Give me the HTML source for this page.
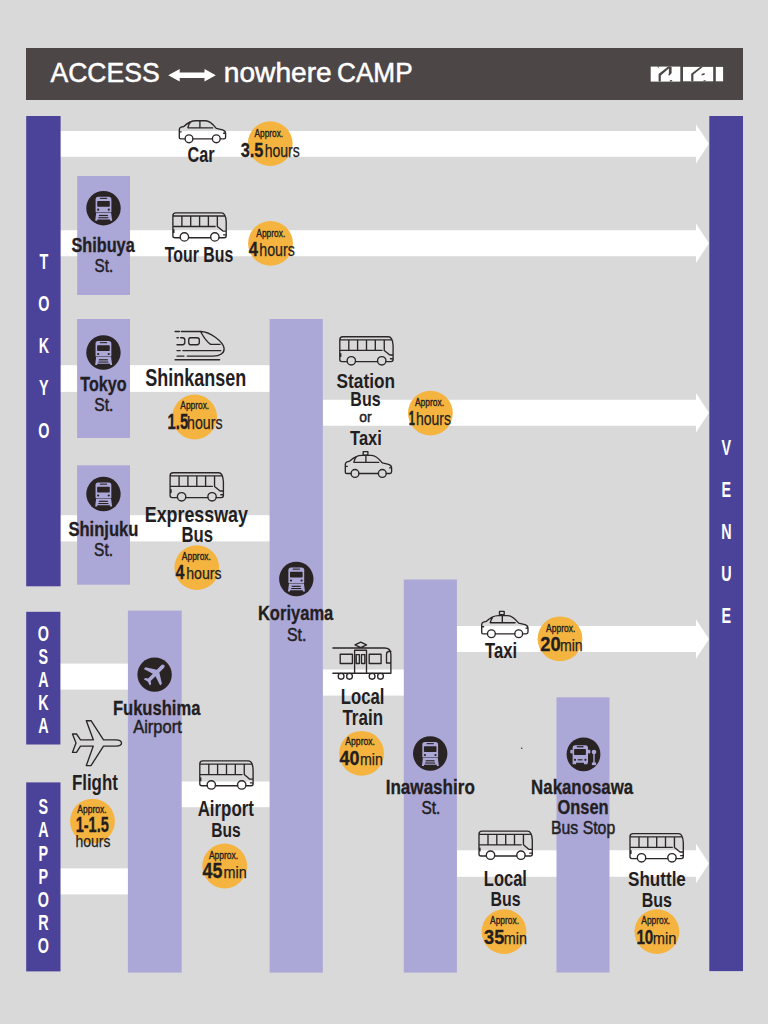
<!DOCTYPE html>
<html><head><meta charset="utf-8"><style>
html,body{margin:0;padding:0;background:#d9d9d9;}
svg{display:block;}
</style></head><body>
<svg width="768" height="1024" viewBox="0 0 768 1024">
<defs><g id="tr"><circle r="17.2" fill="#2a2323"/>
<path d="M-7.9 -8.8Q-7.9 -11.4 -5.3 -11.4H5.3Q7.9 -11.4 7.9 -8.8V4.1H-7.9Z" fill="#aba7d7"/>
<rect x="-6.3" y="-7.3" width="12.6" height="5.8" rx="0.8" fill="#2a2323"/>
<rect x="-3.6" y="-10.4" width="7.2" height="1.1" fill="#2a2323"/>
<circle cx="-5.3" cy="1.5" r="1.1" fill="#2a2323"/><circle cx="5.3" cy="1.5" r="1.1" fill="#2a2323"/>
<path d="M-7.3 4.5H7.6L8.7 12.6H6.7L6.4 11.2H-6.1L-6.4 12.6H-8.3Z" fill="#aba7d7"/><rect x="-4.6" y="6.7" width="9" height="1.2" fill="#2a2323"/><rect x="-5.1" y="9.0" width="10" height="1.1" fill="#2a2323"/></g><g id="ap"><circle r="17.2" fill="#2a2323"/>
<g transform="translate(0.6 -0.6) rotate(45) scale(1.22) translate(-11.5 -12.3)"><path fill="#aba7d7" d="M21 16v-2l-8-5V3.5c0-.83-.67-1.5-1.5-1.5S10 2.67 10 3.5V9l-8 5v2l8-2.5V19l-2 1.5V22l3.5-1 3.5 1v-1.5L13 19v-5.5l8 2.5z"/></g></g><g id="bs"><circle r="16.9" fill="#2a2323"/>
<path d="M-10.9 -6.6Q-10.9 -9.1 -8.4 -9.1H2Q4.5 -9.1 4.5 -6.6V8.4H4V10H0.5V8.4H-7.4V10H-10.9Z" fill="#aba7d7"/>
<rect x="-13.2" y="-4.5" width="2.5" height="3.6" rx="1" fill="#aba7d7"/><rect x="4.3" y="-4.5" width="2.5" height="3.6" rx="1" fill="#aba7d7"/>
<rect x="-9.4" y="-5.2" width="11.8" height="5.8" rx="0.6" fill="#2a2323"/>
<rect x="-6.6" y="-8.2" width="6.6" height="1.3" fill="#2a2323"/>
<circle cx="-8.5" cy="5.5" r="1.1" fill="#2a2323"/><circle cx="1.9" cy="5.5" r="1.1" fill="#2a2323"/><rect x="-5.8" y="4.9" width="4.8" height="1.2" fill="#2a2323"/>
<circle cx="10.5" cy="-2.3" r="2.3" fill="#aba7d7"/><rect x="9.8" y="-1" width="1.4" height="10" fill="#aba7d7"/><rect x="8.4" y="8.2" width="4.2" height="2.6" fill="#aba7d7"/>
</g><g id="car"><path d="M7 20.4H2.6Q1.3 20.4 1.3 19.1V11.2Q1.3 9.4 3 8.7L5.8 8C9.5 4.3 13.5 2.2 18 2.2H27.5C31.5 2.2 34.5 5 38.3 9.8L44.6 11.3Q47.6 12.2 47.6 15V18.7Q47.6 20.4 45.9 20.4H42.3M34.3 20.4H15M9.9 9.2Q11 5 12 4.6M9.9 9.3H34.7M21.9 2.3V9.3M1.3 13.3H3.2M45.6 14.7H47.4" stroke="#2b2627" stroke-width="1.35" fill="none" stroke-linecap="round" stroke-linejoin="round"/><circle cx="11" cy="20.3" r="3.9" stroke="#2b2627" stroke-width="1.35" fill="none" stroke-linecap="round" stroke-linejoin="round"/><circle cx="38.3" cy="20.3" r="3.9" stroke="#2b2627" stroke-width="1.35" fill="none" stroke-linecap="round" stroke-linejoin="round"/></g><g id="bus"><path d="M8.1 26H2.8Q0.8 26 0.8 24V4.1Q0.8 1.1 3.8 1.1H49.3C52.3 1.1 53.8 4 54.1 10V24Q54.1 26 52.1 26H46.95M16.5 26H38.55M0.8 4.3H52.4M0.8 14.8H43M9.8 4.3V14.8M18.6 4.3V14.8M27.5 4.3V14.8M36.3 4.3V14.8M45.25 4.3V14.8L50.8 19.4H54.1M51.5 23.1H54.1" stroke="#2b2627" stroke-width="1.35" fill="none" stroke-linecap="round" stroke-linejoin="round"/><rect x="0.8" y="17.6" width="1.6" height="3.8" fill="#2b2627"/><circle cx="12.3" cy="25.2" r="4.2" stroke="#2b2627" stroke-width="1.35" fill="none" stroke-linecap="round" stroke-linejoin="round"/><circle cx="42.75" cy="25.2" r="4.2" stroke="#2b2627" stroke-width="1.35" fill="none" stroke-linecap="round" stroke-linejoin="round"/></g><g id="shk"><path d="M5.1 5.5H9.4M11.3 5.5H30.5C40 5.5 53.5 16 54.1 22.5C54.6 27 50 30.1 43 30.1H17.2M7 30.1H14M30.5 5.5C33 10 36 15.5 40.6 18.4H50M7 24.6H10.2M12.9 24.6H50.8M5.1 33.75H49.6M20.3 11.7H27.1Q29.3 11.7 29.3 13.9V16.6Q29.3 18.75 27.1 18.75H20.3Q18.75 18.75 18.75 16.6V13.9Q18.75 11.7 20.3 11.7ZM7 11.7H8.3M10.6 11.7H12.6Q14.8 11.7 14.8 13.9V16.6Q14.8 18.75 12.6 18.75H7" stroke="#2b2627" stroke-width="1.35" fill="none" stroke-linecap="round" stroke-linejoin="round"/></g><g id="ltr"><path d="M4.9 12H56.5Q62.9 12 62.9 18.4V37.2H4.9M27 8.9L32.75 6.1L38.5 8.9L32.75 11.7ZM26.6 37.2V14.2H38.5V37.2M28.2 18.6H31.4V27.5H28.2ZM33.5 18.6H36.8V27.5H33.5ZM12.2 18.2H24.4V27.5H12.2ZM41.2 18.2H53.1V27.5H41.2ZM58.5 27V18.5Q58.5 15.5 61 15.5H62.9M58.5 27H62.9" stroke="#2b2627" stroke-width="1.35" fill="none" stroke-linecap="round" stroke-linejoin="round"/><circle cx="13.1" cy="40.3" r="2.9" stroke="#2b2627" stroke-width="1.35" fill="none" stroke-linecap="round" stroke-linejoin="round"/><circle cx="21.5" cy="40.3" r="2.9" stroke="#2b2627" stroke-width="1.35" fill="none" stroke-linecap="round" stroke-linejoin="round"/><circle cx="44.1" cy="40.3" r="2.9" stroke="#2b2627" stroke-width="1.35" fill="none" stroke-linecap="round" stroke-linejoin="round"/><circle cx="52.5" cy="40.3" r="2.9" stroke="#2b2627" stroke-width="1.35" fill="none" stroke-linecap="round" stroke-linejoin="round"/></g></defs>
<rect width="768" height="1024" fill="#d9d9d9"/>
<rect x="26.00" y="48.00" width="717.00" height="52.00" fill="#4d4647"/>
<text x="50.40" y="82.30" font-family="Liberation Sans" font-weight="normal" font-size="27.10" textLength="109.36" lengthAdjust="spacingAndGlyphs" fill="#ffffff" stroke="#ffffff" stroke-width="0.5">ACCESS</text>
<path d="M168.2 75.3L179.7 69.1V72.6H204.5V69.1L215.8 75.3L204.5 81.5V77.9H179.7V81.5Z" fill="#fff"/>
<text x="223.77" y="82.40" font-family="Liberation Sans" font-weight="normal" font-size="26.76" textLength="108.03" lengthAdjust="spacingAndGlyphs" fill="#ffffff" stroke="#ffffff" stroke-width="0.5">nowhere</text>
<text x="336.99" y="82.30" font-family="Liberation Sans" font-weight="normal" font-size="27.00" textLength="75.68" lengthAdjust="spacingAndGlyphs" fill="#ffffff" stroke="#ffffff" stroke-width="0.5">CAMP</text>
<g fill="#fff"><rect x="650.7" y="66.6" width="29.6" height="15"/><rect x="683" y="66.9" width="30.2" height="14.4"/><rect x="715.8" y="66.9" width="7.3" height="14.4"/></g>
<g fill="#4d4647" transform="translate(650.7 66.6)"><path d="M7.9 15H10.1V8.8L20.4 0H17.5L7.9 7.3Z"/><path d="M6.5 0H8.6L7.6 1.4Z"/><path d="M18.2 0.5H20.9V6.6L18.4 9.2L17.6 8.2L18.2 6.8Z"/><path d="M19.8 13.3H21.8L20.6 15H18.6Z"/></g>
<g fill="#4d4647" transform="translate(683 66.9)"><path d="M8.2 14.4H10.4V7.7L19.8 0H17.1L8.2 6.8Z"/><path d="M18.6 7.1L21.6 6.2V7.8L18.6 8.6Z"/><path d="M20.8 13.4H22.6V14.4H20.2Z"/></g>
<path d="M60 130.9H696V124.15L709 143.85L696 163.55V156.8H60Z" fill="#ffffff"/>
<path d="M60 230.3H696V223.55L709 243.25L696 262.95V256.2H60Z" fill="#ffffff"/>
<rect x="60.00" y="365.20" width="210.00" height="26.70" fill="#ffffff"/>
<path d="M323 399.7H696V393.00L709 412.70L696 432.40V425.7H323Z" fill="#ffffff"/>
<rect x="60.00" y="515.20" width="210.00" height="26.20" fill="#ffffff"/>
<rect x="60.00" y="663.60" width="68.40" height="26.00" fill="#ffffff"/>
<rect x="60.00" y="868.40" width="68.40" height="26.00" fill="#ffffff"/>
<rect x="181.00" y="781.50" width="89.00" height="25.70" fill="#ffffff"/>
<rect x="323.00" y="669.50" width="81.00" height="26.10" fill="#ffffff"/>
<path d="M457 626.1H696V619.35L709 639.05L696 658.75V652H457Z" fill="#ffffff"/>
<rect x="457.00" y="850.30" width="100.00" height="26.50" fill="#ffffff"/>
<path d="M609 850.3H696V843.85L709 863.55L696 883.25V876.8H609Z" fill="#ffffff"/>
<rect x="26.20" y="116.00" width="34.40" height="470.30" fill="#4b4299"/>
<rect x="26.20" y="611.80" width="34.20" height="132.70" fill="#4b4299"/>
<rect x="26.20" y="782.40" width="34.30" height="189.00" fill="#4b4299"/>
<rect x="709.30" y="116.00" width="33.70" height="855.10" fill="#4b4299"/>
<rect x="77.20" y="176.00" width="52.80" height="119.00" fill="#aba7d7"/>
<rect x="77.10" y="319.00" width="52.90" height="119.00" fill="#aba7d7"/>
<rect x="77.10" y="465.30" width="52.90" height="119.40" fill="#aba7d7"/>
<rect x="269.60" y="319.00" width="53.20" height="653.60" fill="#aba7d7"/>
<rect x="127.90" y="610.60" width="53.80" height="362.00" fill="#aba7d7"/>
<rect x="403.80" y="579.50" width="53.10" height="393.10" fill="#aba7d7"/>
<rect x="556.50" y="697.30" width="53.00" height="275.20" fill="#aba7d7"/>
<text x="43.90" y="268.90" font-family="Liberation Sans" font-weight="bold" font-size="21.45" fill="#fff" text-anchor="middle" transform="translate(43.90 0) scale(0.67 1) translate(-43.90 0)">T</text>
<text x="43.90" y="311.10" font-family="Liberation Sans" font-weight="bold" font-size="21.45" fill="#fff" text-anchor="middle" transform="translate(43.90 0) scale(0.67 1) translate(-43.90 0)">O</text>
<text x="43.90" y="353.30" font-family="Liberation Sans" font-weight="bold" font-size="21.45" fill="#fff" text-anchor="middle" transform="translate(43.90 0) scale(0.67 1) translate(-43.90 0)">K</text>
<text x="43.90" y="395.50" font-family="Liberation Sans" font-weight="bold" font-size="21.45" fill="#fff" text-anchor="middle" transform="translate(43.90 0) scale(0.67 1) translate(-43.90 0)">Y</text>
<text x="43.90" y="437.70" font-family="Liberation Sans" font-weight="bold" font-size="21.45" fill="#fff" text-anchor="middle" transform="translate(43.90 0) scale(0.67 1) translate(-43.90 0)">O</text>
<text x="43.40" y="640.80" font-family="Liberation Sans" font-weight="bold" font-size="21.45" fill="#fff" text-anchor="middle" transform="translate(43.40 0) scale(0.67 1) translate(-43.40 0)">O</text>
<text x="43.40" y="664.40" font-family="Liberation Sans" font-weight="bold" font-size="21.45" fill="#fff" text-anchor="middle" transform="translate(43.40 0) scale(0.67 1) translate(-43.40 0)">S</text>
<text x="43.40" y="687.10" font-family="Liberation Sans" font-weight="bold" font-size="21.45" fill="#fff" text-anchor="middle" transform="translate(43.40 0) scale(0.67 1) translate(-43.40 0)">A</text>
<text x="43.40" y="709.60" font-family="Liberation Sans" font-weight="bold" font-size="21.45" fill="#fff" text-anchor="middle" transform="translate(43.40 0) scale(0.67 1) translate(-43.40 0)">K</text>
<text x="43.40" y="733.10" font-family="Liberation Sans" font-weight="bold" font-size="21.45" fill="#fff" text-anchor="middle" transform="translate(43.40 0) scale(0.67 1) translate(-43.40 0)">A</text>
<text x="43.40" y="814.40" font-family="Liberation Sans" font-weight="bold" font-size="21.45" fill="#fff" text-anchor="middle" transform="translate(43.40 0) scale(0.67 1) translate(-43.40 0)">S</text>
<text x="43.40" y="837.40" font-family="Liberation Sans" font-weight="bold" font-size="21.45" fill="#fff" text-anchor="middle" transform="translate(43.40 0) scale(0.67 1) translate(-43.40 0)">A</text>
<text x="43.40" y="860.70" font-family="Liberation Sans" font-weight="bold" font-size="21.45" fill="#fff" text-anchor="middle" transform="translate(43.40 0) scale(0.67 1) translate(-43.40 0)">P</text>
<text x="43.40" y="883.90" font-family="Liberation Sans" font-weight="bold" font-size="21.45" fill="#fff" text-anchor="middle" transform="translate(43.40 0) scale(0.67 1) translate(-43.40 0)">P</text>
<text x="43.40" y="907.10" font-family="Liberation Sans" font-weight="bold" font-size="21.45" fill="#fff" text-anchor="middle" transform="translate(43.40 0) scale(0.67 1) translate(-43.40 0)">O</text>
<text x="43.40" y="930.30" font-family="Liberation Sans" font-weight="bold" font-size="21.45" fill="#fff" text-anchor="middle" transform="translate(43.40 0) scale(0.67 1) translate(-43.40 0)">R</text>
<text x="43.40" y="953.50" font-family="Liberation Sans" font-weight="bold" font-size="21.45" fill="#fff" text-anchor="middle" transform="translate(43.40 0) scale(0.67 1) translate(-43.40 0)">O</text>
<text x="726.40" y="454.90" font-family="Liberation Sans" font-weight="bold" font-size="21.45" fill="#fff" text-anchor="middle" transform="translate(726.40 0) scale(0.67 1) translate(-726.40 0)">V</text>
<text x="726.40" y="496.90" font-family="Liberation Sans" font-weight="bold" font-size="21.45" fill="#fff" text-anchor="middle" transform="translate(726.40 0) scale(0.67 1) translate(-726.40 0)">E</text>
<text x="726.40" y="538.90" font-family="Liberation Sans" font-weight="bold" font-size="21.45" fill="#fff" text-anchor="middle" transform="translate(726.40 0) scale(0.67 1) translate(-726.40 0)">N</text>
<text x="726.40" y="580.90" font-family="Liberation Sans" font-weight="bold" font-size="21.45" fill="#fff" text-anchor="middle" transform="translate(726.40 0) scale(0.67 1) translate(-726.40 0)">U</text>
<text x="726.40" y="622.90" font-family="Liberation Sans" font-weight="bold" font-size="21.45" fill="#fff" text-anchor="middle" transform="translate(726.40 0) scale(0.67 1) translate(-726.40 0)">E</text>
<path d="M121.5 743C121.5 740.3 119 739.8 116 739.8H103.5L91 720.7H86.3L93.3 739.8H80.5L76.5 734H72.5L76 743L72.5 752.3H76.5L80.5 746.1H93.3L86.3 765.6H91L103.5 746.1H116C119 746.1 121.5 745.7 121.5 743Z" stroke="#2b2627" stroke-width="1.35" fill="none" stroke-linecap="round" stroke-linejoin="round"/>
<use href="#tr" x="103.5" y="208.2"/>
<use href="#tr" x="103.45" y="352.5"/>
<use href="#tr" x="103.45" y="494"/>
<use href="#tr" x="296.3" y="579"/>
<use href="#tr" x="430.2" y="753.5"/>
<use href="#ap" x="154.6" y="674.6"/>
<use href="#bs" x="583.5" y="754.3"/>
<use href="#car" x="178" y="118.5"/>
<use href="#car" x="344" y="453.1"/>
<rect x="363.2" y="451.6" width="4.7" height="3.6" stroke="#2b2627" stroke-width="1.35" fill="none" stroke-linecap="round" stroke-linejoin="round"/>
<use href="#car" x="480.4" y="613.4"/>
<circle cx="521.7" cy="748.2" r="0.8" fill="#3a3535"/>
<rect x="499.5" y="611.4" width="4.7" height="3.3" stroke="#2b2627" stroke-width="1.35" fill="none" stroke-linecap="round" stroke-linejoin="round"/>
<use href="#bus" x="172.1" y="211.7"/>
<use href="#bus" x="169.3" y="471.6"/>
<use href="#bus" x="339" y="335.6"/>
<use href="#bus" x="199" y="759.8"/>
<use href="#bus" x="478.2" y="830"/>
<use href="#bus" x="629.2" y="832.6"/>
<use href="#shk" x="170" y="326"/>
<use href="#ltr" x="328" y="636"/>
<circle cx="270.2" cy="143.6" r="22.4" fill="#f5b43f"/>
<circle cx="270.5" cy="243.4" r="22.4" fill="#f5b43f"/>
<circle cx="194.6" cy="417" r="22.4" fill="#f5b43f"/>
<circle cx="196.8" cy="567.6" r="22.4" fill="#f5b43f"/>
<circle cx="430.4" cy="413.1" r="22.4" fill="#f5b43f"/>
<circle cx="92.5" cy="821.2" r="22.4" fill="#f5b43f"/>
<circle cx="224.7" cy="866" r="22.4" fill="#f5b43f"/>
<circle cx="361.6" cy="753.3" r="22.4" fill="#f5b43f"/>
<circle cx="560" cy="638.8" r="22.4" fill="#f5b43f"/>
<circle cx="504" cy="931.6" r="22.4" fill="#f5b43f"/>
<circle cx="656.9" cy="931.6" r="22.4" fill="#f5b43f"/>
<text x="187.45" y="162.30" font-family="Liberation Sans" font-weight="bold" font-size="22.00" textLength="27.05" lengthAdjust="spacingAndGlyphs" fill="#231e1f">Car</text>
<text x="164.84" y="262.10" font-family="Liberation Sans" font-weight="bold" font-size="21.74" textLength="68.39" lengthAdjust="spacingAndGlyphs" fill="#231e1f">Tour Bus</text>
<text x="145.16" y="386.40" font-family="Liberation Sans" font-weight="bold" font-size="23.43" textLength="100.97" lengthAdjust="spacingAndGlyphs" fill="#231e1f">Shinkansen</text>
<text x="144.74" y="521.70" font-family="Liberation Sans" font-weight="bold" font-size="21.59" textLength="103.18" lengthAdjust="spacingAndGlyphs" fill="#231e1f">Expressway</text>
<text x="181.51" y="541.80" font-family="Liberation Sans" font-weight="bold" font-size="21.74" textLength="31.54" lengthAdjust="spacingAndGlyphs" fill="#231e1f">Bus</text>
<text x="336.58" y="387.60" font-family="Liberation Sans" font-weight="bold" font-size="20.71" textLength="58.43" lengthAdjust="spacingAndGlyphs" fill="#231e1f">Station</text>
<text x="350.36" y="405.80" font-family="Liberation Sans" font-weight="bold" font-size="20.87" textLength="30.27" lengthAdjust="spacingAndGlyphs" fill="#231e1f">Bus</text>
<text x="359.34" y="422.20" font-family="Liberation Sans" font-weight="normal" font-size="14.81" textLength="12.37" lengthAdjust="spacingAndGlyphs" fill="#231e1f" stroke="#231e1f" stroke-width="0.5">or</text>
<text x="350.04" y="444.60" font-family="Liberation Sans" font-weight="bold" font-size="21.01" textLength="31.77" lengthAdjust="spacingAndGlyphs" fill="#231e1f">Taxi</text>
<text x="71.90" y="789.90" font-family="Liberation Sans" font-weight="bold" font-size="21.30" textLength="45.99" lengthAdjust="spacingAndGlyphs" fill="#231e1f">Flight</text>
<text x="197.68" y="815.90" font-family="Liberation Sans" font-weight="bold" font-size="21.30" textLength="56.24" lengthAdjust="spacingAndGlyphs" fill="#231e1f">Airport</text>
<text x="211.19" y="836.90" font-family="Liberation Sans" font-weight="bold" font-size="20.29" textLength="29.42" lengthAdjust="spacingAndGlyphs" fill="#231e1f">Bus</text>
<text x="340.82" y="704.00" font-family="Liberation Sans" font-weight="bold" font-size="21.45" textLength="43.50" lengthAdjust="spacingAndGlyphs" fill="#231e1f">Local</text>
<text x="342.43" y="725.10" font-family="Liberation Sans" font-weight="bold" font-size="21.74" textLength="40.58" lengthAdjust="spacingAndGlyphs" fill="#231e1f">Train</text>
<text x="485.03" y="657.90" font-family="Liberation Sans" font-weight="bold" font-size="21.30" textLength="32.03" lengthAdjust="spacingAndGlyphs" fill="#231e1f">Taxi</text>
<text x="483.83" y="885.60" font-family="Liberation Sans" font-weight="bold" font-size="21.59" textLength="43.07" lengthAdjust="spacingAndGlyphs" fill="#231e1f">Local</text>
<text x="490.57" y="906.40" font-family="Liberation Sans" font-weight="bold" font-size="20.87" textLength="30.06" lengthAdjust="spacingAndGlyphs" fill="#231e1f">Bus</text>
<text x="627.99" y="885.60" font-family="Liberation Sans" font-weight="bold" font-size="20.71" textLength="57.89" lengthAdjust="spacingAndGlyphs" fill="#231e1f">Shuttle</text>
<text x="641.76" y="906.50" font-family="Liberation Sans" font-weight="bold" font-size="20.87" textLength="30.27" lengthAdjust="spacingAndGlyphs" fill="#231e1f">Bus</text>
<text x="71.41" y="252.10" font-family="Liberation Sans" font-weight="bold" font-size="20.00" textLength="63.32" lengthAdjust="spacingAndGlyphs" fill="#231e1f" stroke="#231e1f" stroke-width="0.3">Shibuya</text>
<text x="80.24" y="391.20" font-family="Liberation Sans" font-weight="bold" font-size="20.14" textLength="46.32" lengthAdjust="spacingAndGlyphs" fill="#231e1f" stroke="#231e1f" stroke-width="0.3">Tokyo</text>
<text x="68.40" y="535.50" font-family="Liberation Sans" font-weight="bold" font-size="20.14" textLength="70.01" lengthAdjust="spacingAndGlyphs" fill="#231e1f" stroke="#231e1f" stroke-width="0.3">Shinjuku</text>
<text x="257.93" y="619.90" font-family="Liberation Sans" font-weight="bold" font-size="20.29" textLength="75.35" lengthAdjust="spacingAndGlyphs" fill="#231e1f" stroke="#231e1f" stroke-width="0.3">Koriyama</text>
<text x="112.92" y="714.80" font-family="Liberation Sans" font-weight="bold" font-size="20.14" textLength="87.49" lengthAdjust="spacingAndGlyphs" fill="#231e1f" stroke="#231e1f" stroke-width="0.3">Fukushima</text>
<text x="385.69" y="794.00" font-family="Liberation Sans" font-weight="bold" font-size="20.29" textLength="89.17" lengthAdjust="spacingAndGlyphs" fill="#231e1f" stroke="#231e1f" stroke-width="0.3">Inawashiro</text>
<text x="531.11" y="793.70" font-family="Liberation Sans" font-weight="bold" font-size="20.29" textLength="102.00" lengthAdjust="spacingAndGlyphs" fill="#231e1f" stroke="#231e1f" stroke-width="0.3">Nakanosawa</text>
<text x="557.54" y="813.60" font-family="Liberation Sans" font-weight="bold" font-size="19.71" textLength="51.07" lengthAdjust="spacingAndGlyphs" fill="#231e1f" stroke="#231e1f" stroke-width="0.3">Onsen</text>
<text x="94.52" y="272.20" font-family="Liberation Sans" font-weight="normal" font-size="18.43" textLength="18.59" lengthAdjust="spacingAndGlyphs" fill="#231e1f" stroke="#231e1f" stroke-width="0.5">St.</text>
<text x="94.29" y="411.10" font-family="Liberation Sans" font-weight="normal" font-size="18.71" textLength="19.16" lengthAdjust="spacingAndGlyphs" fill="#231e1f" stroke="#231e1f" stroke-width="0.5">St.</text>
<text x="94.10" y="556.20" font-family="Liberation Sans" font-weight="normal" font-size="18.43" textLength="18.93" lengthAdjust="spacingAndGlyphs" fill="#231e1f" stroke="#231e1f" stroke-width="0.5">St.</text>
<text x="286.98" y="640.80" font-family="Liberation Sans" font-weight="normal" font-size="18.29" textLength="19.49" lengthAdjust="spacingAndGlyphs" fill="#231e1f" stroke="#231e1f" stroke-width="0.5">St.</text>
<text x="133.20" y="732.60" font-family="Liberation Sans" font-weight="normal" font-size="18.55" textLength="48.59" lengthAdjust="spacingAndGlyphs" fill="#231e1f" stroke="#231e1f" stroke-width="0.5">Airport</text>
<text x="421.40" y="814.40" font-family="Liberation Sans" font-weight="normal" font-size="17.86" textLength="18.93" lengthAdjust="spacingAndGlyphs" fill="#231e1f" stroke="#231e1f" stroke-width="0.5">St.</text>
<text x="551.04" y="834.00" font-family="Liberation Sans" font-weight="normal" font-size="18.41" textLength="64.15" lengthAdjust="spacingAndGlyphs" fill="#231e1f" stroke="#231e1f" stroke-width="0.5">Bus Stop</text>
<text x="254.60" y="137.40" font-family="Liberation Sans" font-weight="normal" font-size="11.16" textLength="28.56" lengthAdjust="spacingAndGlyphs" fill="#231e1f" stroke="#231e1f" stroke-width="0.35">Approx.</text>
<text x="240.74" y="157.30" font-family="Liberation Sans" font-weight="bold" font-size="20.00" textLength="22.67" lengthAdjust="spacingAndGlyphs" fill="#231e1f" stroke="#231e1f" stroke-width="0.3">3.5</text>
<text x="264.72" y="157.30" font-family="Liberation Sans" font-weight="normal" font-size="17.52" textLength="35.09" lengthAdjust="spacingAndGlyphs" fill="#231e1f" stroke="#231e1f" stroke-width="0.25">hours</text>
<text x="256.30" y="236.90" font-family="Liberation Sans" font-weight="normal" font-size="11.01" textLength="29.07" lengthAdjust="spacingAndGlyphs" fill="#231e1f" stroke="#231e1f" stroke-width="0.35">Approx.</text>
<text x="248.85" y="256.00" font-family="Liberation Sans" font-weight="bold" font-size="20.14" textLength="9.25" lengthAdjust="spacingAndGlyphs" fill="#231e1f" stroke="#231e1f" stroke-width="0.3">4</text>
<text x="259.31" y="256.00" font-family="Liberation Sans" font-weight="normal" font-size="17.52" textLength="35.51" lengthAdjust="spacingAndGlyphs" fill="#231e1f" stroke="#231e1f" stroke-width="0.25">hours</text>
<text x="180.30" y="409.10" font-family="Liberation Sans" font-weight="normal" font-size="10.87" textLength="28.87" lengthAdjust="spacingAndGlyphs" fill="#231e1f" stroke="#231e1f" stroke-width="0.35">Approx.</text>
<text x="167.61" y="428.80" font-family="Liberation Sans" font-weight="bold" font-size="21.45" textLength="20.61" lengthAdjust="spacingAndGlyphs" fill="#231e1f" stroke="#231e1f" stroke-width="0.3">1.5</text>
<text x="187.11" y="428.80" font-family="Liberation Sans" font-weight="normal" font-size="17.52" textLength="35.41" lengthAdjust="spacingAndGlyphs" fill="#231e1f" stroke="#231e1f" stroke-width="0.25">hours</text>
<text x="181.85" y="559.90" font-family="Liberation Sans" font-weight="normal" font-size="11.01" textLength="29.07" lengthAdjust="spacingAndGlyphs" fill="#231e1f" stroke="#231e1f" stroke-width="0.35">Approx.</text>
<text x="175.46" y="578.80" font-family="Liberation Sans" font-weight="bold" font-size="20.29" textLength="8.94" lengthAdjust="spacingAndGlyphs" fill="#231e1f" stroke="#231e1f" stroke-width="0.3">4</text>
<text x="186.16" y="578.80" font-family="Liberation Sans" font-weight="normal" font-size="16.97" textLength="35.46" lengthAdjust="spacingAndGlyphs" fill="#231e1f" stroke="#231e1f" stroke-width="0.25">hours</text>
<text x="415.00" y="406.00" font-family="Liberation Sans" font-weight="normal" font-size="10.87" textLength="29.07" lengthAdjust="spacingAndGlyphs" fill="#231e1f" stroke="#231e1f" stroke-width="0.35">Approx.</text>
<text x="408.84" y="425.30" font-family="Liberation Sans" font-weight="bold" font-size="20.87" textLength="6.15" lengthAdjust="spacingAndGlyphs" fill="#231e1f" stroke="#231e1f" stroke-width="0.3">1</text>
<text x="416.02" y="425.30" font-family="Liberation Sans" font-weight="normal" font-size="18.14" textLength="34.99" lengthAdjust="spacingAndGlyphs" fill="#231e1f" stroke="#231e1f" stroke-width="0.25">hours</text>
<text x="77.30" y="812.60" font-family="Liberation Sans" font-weight="normal" font-size="10.43" textLength="29.28" lengthAdjust="spacingAndGlyphs" fill="#231e1f" stroke="#231e1f" stroke-width="0.35">Approx.</text>
<text x="75.63" y="831.80" font-family="Liberation Sans" font-weight="bold" font-size="21.30" textLength="33.13" lengthAdjust="spacingAndGlyphs" fill="#231e1f" stroke="#231e1f" stroke-width="0.3">1-1.5</text>
<text x="75.52" y="846.80" font-family="Liberation Sans" font-weight="normal" font-size="16.83" textLength="34.89" lengthAdjust="spacingAndGlyphs" fill="#231e1f" stroke="#231e1f" stroke-width="0.25">hours</text>
<text x="208.90" y="858.80" font-family="Liberation Sans" font-weight="normal" font-size="10.87" textLength="29.28" lengthAdjust="spacingAndGlyphs" fill="#231e1f" stroke="#231e1f" stroke-width="0.35">Approx.</text>
<text x="202.53" y="878.00" font-family="Liberation Sans" font-weight="bold" font-size="21.30" textLength="19.86" lengthAdjust="spacingAndGlyphs" fill="#231e1f" stroke="#231e1f" stroke-width="0.3">45</text>
<text x="223.46" y="878.00" font-family="Liberation Sans" font-weight="normal" font-size="16.67" textLength="23.19" lengthAdjust="spacingAndGlyphs" fill="#231e1f" stroke="#231e1f" stroke-width="0.25">min</text>
<text x="345.30" y="745.15" font-family="Liberation Sans" font-weight="normal" font-size="11.38" textLength="29.69" lengthAdjust="spacingAndGlyphs" fill="#231e1f" stroke="#231e1f" stroke-width="0.35">Approx.</text>
<text x="339.53" y="764.80" font-family="Liberation Sans" font-weight="bold" font-size="20.72" textLength="19.93" lengthAdjust="spacingAndGlyphs" fill="#231e1f" stroke="#231e1f" stroke-width="0.3">40</text>
<text x="359.98" y="764.80" font-family="Liberation Sans" font-weight="normal" font-size="16.67" textLength="22.86" lengthAdjust="spacingAndGlyphs" fill="#231e1f" stroke="#231e1f" stroke-width="0.25">min</text>
<text x="546.10" y="631.50" font-family="Liberation Sans" font-weight="normal" font-size="10.72" textLength="29.28" lengthAdjust="spacingAndGlyphs" fill="#231e1f" stroke="#231e1f" stroke-width="0.35">Approx.</text>
<text x="540.26" y="651.10" font-family="Liberation Sans" font-weight="bold" font-size="20.29" textLength="20.31" lengthAdjust="spacingAndGlyphs" fill="#231e1f" stroke="#231e1f" stroke-width="0.3">20</text>
<text x="559.88" y="651.10" font-family="Liberation Sans" font-weight="normal" font-size="16.67" textLength="22.76" lengthAdjust="spacingAndGlyphs" fill="#231e1f" stroke="#231e1f" stroke-width="0.25">min</text>
<text x="490.10" y="924.40" font-family="Liberation Sans" font-weight="normal" font-size="11.30" textLength="28.87" lengthAdjust="spacingAndGlyphs" fill="#231e1f" stroke="#231e1f" stroke-width="0.35">Approx.</text>
<text x="484.04" y="943.60" font-family="Liberation Sans" font-weight="bold" font-size="20.43" textLength="20.25" lengthAdjust="spacingAndGlyphs" fill="#231e1f" stroke="#231e1f" stroke-width="0.3">35</text>
<text x="503.86" y="943.60" font-family="Liberation Sans" font-weight="normal" font-size="16.67" textLength="23.19" lengthAdjust="spacingAndGlyphs" fill="#231e1f" stroke="#231e1f" stroke-width="0.25">min</text>
<text x="641.30" y="924.20" font-family="Liberation Sans" font-weight="normal" font-size="11.01" textLength="28.87" lengthAdjust="spacingAndGlyphs" fill="#231e1f" stroke="#231e1f" stroke-width="0.35">Approx.</text>
<text x="636.39" y="943.60" font-family="Liberation Sans" font-weight="bold" font-size="20.72" textLength="16.96" lengthAdjust="spacingAndGlyphs" fill="#231e1f" stroke="#231e1f" stroke-width="0.3">10</text>
<text x="652.75" y="943.60" font-family="Liberation Sans" font-weight="normal" font-size="16.67" textLength="23.63" lengthAdjust="spacingAndGlyphs" fill="#231e1f" stroke="#231e1f" stroke-width="0.25">min</text>
</svg></body></html>
